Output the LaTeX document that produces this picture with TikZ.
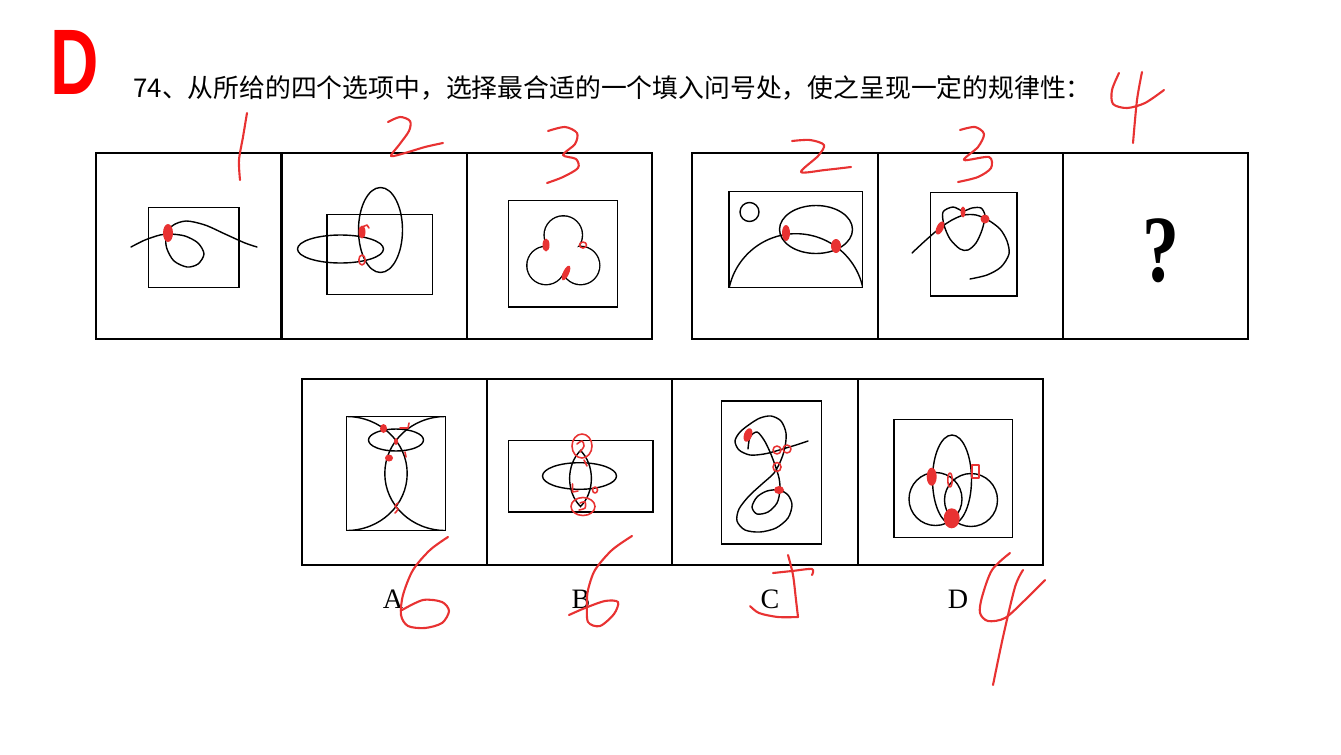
\documentclass[tikz,border=0pt]{standalone}
\usepackage{fontspec}
\setmainfont{Liberation Serif}
\newfontfamily\cjk{Noto Sans CJK SC}
\newfontfamily\headfont{Liberation Sans}
\definecolor{penred}{RGB}{232,50,50}
\colorlet{markred}{red}
\tikzset{
  frame/.style={line width=1.15pt},
  box/.style={line width=0.85pt},
  knot/.style={line width=0.8pt,line cap=round},
  pen/.style={draw=penred,line width=1.2pt,line cap=round,line join=round},
  thinpen/.style={pen,line width=0.9pt},
  blob/.style={fill=penred},
}

\begin{document}
\begin{tikzpicture}[x=0.02cm,y=-0.02cm]
  \def\qtop{153}  % question row top
  \def\qbot{339}  % question row bottom
  \def\otop{379}  % option row top
  \def\obot{565}  % option row bottom
  \useasboundingbox (0,0) rectangle (1341,754);

  % HEADER
  \node[text=markred,font=\headfont\bfseries\fontsize{53}{53}\selectfont,inner sep=0] (bigD) at (75,62) {\scalebox{0.72}[1]{D}};
  \node[anchor=west,font=\cjk\fontsize{14.7}{14.7}\selectfont,inner sep=0] (title) at (133,88)
    {74、从所给的四个选项中，选择最合适的一个填入问号处，使之呈现一定的规律性：};

  % FRAMES
  \draw[frame] (96,\qtop) rectangle (652,\qbot);
  \draw[frame] (692,\qtop) rectangle (1248,\qbot);
  \foreach \x in {281.5,467,877.5,1063} \draw[frame] (\x,\qtop) -- (\x,\qbot);
  \draw[frame] (302,\otop) rectangle (1043,\obot);
  \foreach \x in {487.3,672,857.7} \draw[frame] (\x,\otop) -- (\x,\obot);

  % CELL 1: curl
  \draw[box] (148.5,207.5) rectangle (239,287.5);
  \draw[knot] plot[smooth] coordinates {(131,247) (145,240) (160,235) (170,234) (185,236) (198,243)
    (204,254) (198,264) (187,267) (174,261) (167,249) (166,238) (172,226) (186,221) (205,225)
    (225,234) (245,243) (257,247)};

  % CELL 2: two ellipses
  \draw[box] (327,214.5) rectangle (432.5,294.5);
  \draw[knot] (380.5,230) ellipse[x radius=22,y radius=42.5];
  \draw[knot] (340.5,249) ellipse[x radius=43,y radius=14];

  % CELL 3: trefoil (outer outline of three circles)
  \draw[box] (508.5,200.5) rectangle (617.5,307);
  \draw[line width=1.6pt] (563.3,235) circle[radius=18.5] (546,265.5) circle[radius=18.5]
    (580.6,265.5) circle[radius=18.5];
  \fill[white] (563.3,235) circle[radius=18.5] (546,265.5) circle[radius=18.5]
    (580.6,265.5) circle[radius=18.5];
  \fill[white] (563.3,235) -- (546,265.5) -- (580.6,265.5) -- cycle;

  % CELL 4: sun, hill and cloud
  \draw[box] (729,191.5) rectangle (862.5,287.5);
  \draw[knot] (749.5,212) circle[radius=9.5];
  \begin{scope}
    \clip (729,191.5) rectangle (862.5,287.5);
    \draw[knot] (796,302) circle[radius=68.3];
  \end{scope}
  \draw[knot] (816,229.5) ellipse[x radius=36.5,y radius=24];

  % CELL 5: strand and loop
  \draw[box] (930.5,192.5) rectangle (1017,296);
  \draw[knot] plot[smooth] coordinates {(912,253) (926,240) (940,228) (952,220) (964,215) (976,215)
    (988,220) (1000,229) (1007,241) (1009,254) (1001,267) (987,275) (970,279)};
  \draw[knot] plot[smooth cycle] coordinates {(943,212) (944,225) (950,239) (960,249) (968,250)
    (976,243) (982,230) (985,216) (981,208) (972,208) (963,211) (953,207)};

  % CELL 6
  \node[font=\bfseries\fontsize{54}{54}\selectfont,inner sep=0] (qmark) at (1161,251) {\scalebox{0.78}[1]{?}};

  % OPTION A
  \draw[box] (346.5,416.5) rectangle (445.5,530.5);
  \begin{scope}
    \clip (346.5,416.5) rectangle (445.5,530.5);
    \draw[knot] (346.5,473.5) ellipse[x radius=60.7,y radius=57];
    \draw[knot] (445.5,473.5) ellipse[x radius=60.7,y radius=57];
  \end{scope}
  \draw[knot] (396,440) ellipse[x radius=27.5,y radius=11];

  % OPTION B
  \draw[box] (508.5,440.5) rectangle (653,512);
  \draw[knot] (579.5,476) ellipse[x radius=37,y radius=13.3];
  \draw[knot] (580.5,450.5) .. controls (595,465) and (595,492) .. (580.5,506.5)
    .. controls (566,492) and (566,465) .. cycle;

  % OPTION C
  \draw[box] (721.5,401) rectangle (821.5,544);
  \draw[knot] plot[smooth] coordinates {(808,441) (796,445) (786,448) (776,451) (764,454) (750,455)
    (739,450) (735,441) (740,432) (750,424) (760,418) (771,416) (781,421) (786,433) (785,447)
    (781,460) (774,473) (762,484) (749,496) (739,509) (737,521) (745,530) (760,532) (776,528)
    (788,518) (792,505) (788,495) (779,490) (767,491) (757,497) (752,507) (757,514) (768,512)
    (777,503) (780,490) (779,478) (775,465) (770,452) (764,440) (757,432) (750,437) (748,449)};

  % OPTION D
  \draw[box] (894,419.5) rectangle (1012.5,537.5);
  \draw[knot] (952,479.5) ellipse[x radius=19.5,y radius=44.5];
  \draw[knot] (935.5,499) circle[radius=26.5];
  \draw[knot] (971,500) circle[radius=26.5];

  % LETTERS
  \foreach \l/\x in {A/393,B/581,C/770,D/958}
    \node[font=\fontsize{16}{16}\selectfont,inner sep=0] (lab\l) at (\x,599) {\l};

  % RED MARKS ON CROSSINGS
  \fill[blob] (168,233) ellipse[x radius=5,y radius=9];
  \fill[blob] (362,232) ellipse[x radius=3.5,y radius=6.5];
  \draw[thinpen] (362,227) -- (367,225) -- (369,228);
  \draw[thinpen] (362,260) ellipse[x radius=3.2,y radius=5];
  \fill[blob] (546,245) ellipse[x radius=3.5,y radius=6.5];
  \draw[thinpen] (583,245) ellipse[x radius=3.5,y radius=3];
  \fill[blob,rotate around={-25:(566,273)}] (566,273) ellipse[x radius=3,y radius=8];
  \fill[blob] (786,233) ellipse[x radius=4,y radius=8];
  \fill[blob] (836,246) ellipse[x radius=5,y radius=7];
  \fill[blob,rotate around={-25:(940,228)}] (940,228) ellipse[x radius=3.5,y radius=7];
  \fill[blob] (963,212) ellipse[x radius=2.5,y radius=5.5];
  \fill[blob] (985,219) ellipse[x radius=4.5,y radius=4.5];
  % option A
  \fill[blob] (383.5,428.5) ellipse[x radius=3.5,y radius=4.5];
  \draw[thinpen] (400,428) -- (408,428) -- (409,423);
  \fill[blob] (396,441.5) ellipse[x radius=2,y radius=3.5];
  \fill[blob] (389,458) ellipse[x radius=4,y radius=3.5];
  \draw[thinpen] (405,452) -- (406,457);
  \draw[thinpen] plot[smooth] coordinates {(398,503) (395,506) (398,509) (395,513)};
  % option B
  \draw[thinpen] (582,446) ellipse[x radius=10,y radius=12];
  \draw[thinpen] plot[smooth] coordinates {(577,444) (582,441) (584,446) (580,452)};
  \draw[thinpen] (583,506.5) ellipse[x radius=12,y radius=9];
  \draw[thinpen] plot[smooth] coordinates {(580,503) (585,502) (585,508) (579,510)};
  \draw[thinpen] (572.5,484) -- (572.5,492) -- (578,491);
  \draw[thinpen] (595,490) ellipse[x radius=2.5,y radius=3];
  \draw[thinpen] (584,460) -- (587,466);
  % option C
  \fill[blob,rotate around={-20:(748,435)}] (748,435) ellipse[x radius=4,y radius=7];
  \draw[thinpen] (777,450) circle[radius=4];
  \draw[thinpen] (787,449) circle[radius=4];
  \draw[thinpen] (777,467) ellipse[x radius=4,y radius=4.5];
  \fill[blob] (779,490) ellipse[x radius=5,y radius=4];
  % option D
  \fill[blob] (931.7,476.7) ellipse[x radius=5,y radius=9];
  \draw[thinpen] (950,480) ellipse[x radius=2.2,y radius=7];
  \draw[thinpen] (972,465) rectangle (979,478);
  \fill[blob] (951.7,518.3) ellipse[x radius=8,y radius=10];

  % HANDWRITTEN COUNTS
  \draw[pen] plot[smooth] coordinates {(247,113) (243,137) (239,160) (240,180)};
  \draw[pen] plot[smooth] coordinates {(388,122) (400,117) (410,121) (409,131) (399,145) (391,156)
    (405,153) (425,147) (443,143)};
  \draw[pen] plot[smooth] coordinates {(548,131) (565,127) (577,133) (575,144) (563,155) (576,159)
    (578,168) (563,177) (547,183)};
  \draw[pen] plot[smooth] coordinates {(792,141) (810,140) (824,145) (818,156) (801,172) (825,170)
    (851,167)};
  \draw[pen] plot[smooth] coordinates {(960,130) (975,127) (984,134) (978,147) (964,160) (989,157)
    (991,168) (978,177) (958,182)};
  \draw[pen] plot[smooth] coordinates {(1119,73) (1112,90) (1113,104) (1127,108) (1145,103) (1164,90)};
  \draw[pen] plot[smooth] coordinates {(1142,72) (1137,100) (1133,143)};
  \draw[pen] plot[smooth] coordinates {(448,537) (430,550) (413,570) (403,595) (401,615) (408,626)
    (425,628) (442,623) (449,611) (442,602) (423,600) (402,610)};
  \draw[pen] plot[smooth] coordinates {(632,536) (612,550) (595,570) (588,590) (587,603) (588,622)
    (600,626) (614,614) (618,602) (605,601) (585,608) (569,615)};
  \draw[pen] plot[smooth] coordinates {(788,555) (793,575) (796,600) (798,617)};
  \draw[pen] plot[smooth] coordinates {(798,617) (778,617) (759,613) (750,606)};
  \draw[pen] plot[smooth] coordinates {(773,573) (792,571) (812,569) (812,575)};
  \draw[pen] plot[smooth] coordinates {(1010,553) (992,570) (982,597) (980,613) (988,621) (1005,618)
    (1025,600) (1045,580)};
  \draw[pen] plot[smooth] coordinates {(1023,570) (1015,587) (1003,637) (993,685)};
\end{tikzpicture}
\end{document}
